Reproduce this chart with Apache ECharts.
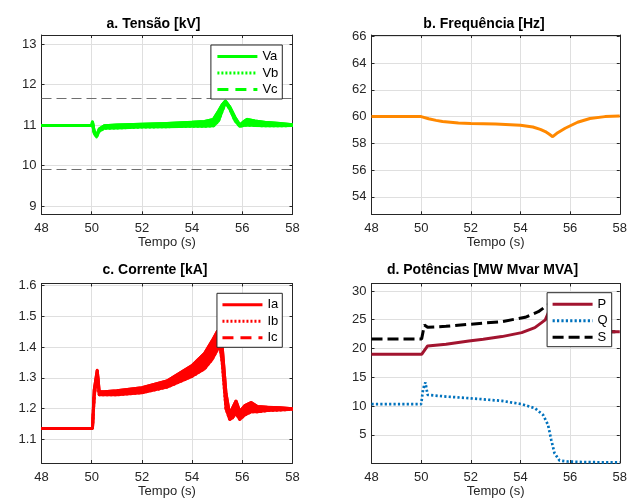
<!DOCTYPE html>
<html><head><meta charset="utf-8">
<script src="https://cdn.jsdelivr.net/npm/echarts@6/dist/echarts.min.js"></script>
<style>html,body{margin:0;padding:0;background:#fff}#c{width:630px;height:501px}</style>
</head><body><div id="c"></div>
<script>
// ---------- DATA ----------
const titles = ['a. Tensão [kV]', 'b. Frequência [Hz]', 'c. Corrente [kA]', 'd. Potências [MW Mvar MVA]'];
const xLabel = 'Tempo (s)';
const xTicks = [48, 50, 52, 54, 56, 58];
const yTicksV = [9, 10, 11, 12, 13];
const yTicksF = [54, 56, 58, 60, 62, 64, 66];
const yTicksI = [1.1, 1.2, 1.3, 1.4, 1.5, 1.6];
const yTicksP = [5, 10, 15, 20, 25, 30];

// a. Voltage
const tV = [48, 50, 50.03, 50.1, 50.19, 50.3, 50.5, 51, 52, 53, 54, 54.5, 54.85, 55.05, 55.2, 55.33, 55.5, 55.7, 55.9, 56.05, 56.2, 56.5, 57, 57.5, 58];
const Va = [10.99, 10.99, 11.08, 10.84, 10.74, 10.9, 10.98, 11.0, 11.02, 11.04, 11.07, 11.09, 11.14, 11.34, 11.5, 11.59, 11.45, 11.2, 11.0, 11.08, 11.14, 11.1, 11.06, 11.04, 11.01];
const Vb = [10.99, 10.99, 11.05, 10.8, 10.71, 10.85, 10.92, 10.93, 10.95, 10.96, 10.97, 10.97, 10.98, 11.1, 11.35, 11.55, 11.4, 11.12, 10.97, 10.99, 11.0, 10.99, 10.98, 10.98, 10.99];
const Vc = [10.99, 10.99, 11.06, 10.82, 10.72, 10.87, 10.95, 10.96, 10.98, 11.0, 11.02, 11.03, 11.06, 11.22, 11.42, 11.57, 11.42, 11.16, 10.98, 11.03, 11.07, 11.04, 11.02, 11.01, 11.0];
const vLimits = [11.66, 9.9];

// b. Frequency
const tF = [48, 50, 50.3, 50.6, 50.86, 51.5, 52, 53, 54, 54.5, 54.8, 55.0, 55.15, 55.3, 55.5, 55.8, 56.3, 56.8, 57.4, 58];
const F = [60, 60, 59.84, 59.72, 59.63, 59.52, 59.48, 59.44, 59.36, 59.22, 59.05, 58.88, 58.7, 58.5, 58.8, 59.13, 59.58, 59.86, 60.0, 60.05];

// c. Current
const tI = [48, 50.03, 50.1, 50.22, 50.3, 50.5, 51, 52, 53, 54, 54.5, 54.8, 55.0, 55.1, 55.2, 55.35, 55.5, 55.6, 55.75, 55.9, 56.1, 56.35, 56.6, 57, 57.5, 58];
const Ia = [1.136, 1.136, 1.26, 1.325, 1.255, 1.255, 1.258, 1.268, 1.29, 1.34, 1.38, 1.42, 1.45, 1.455, 1.4, 1.25, 1.18, 1.2, 1.225, 1.19, 1.21, 1.22, 1.207, 1.205, 1.203, 1.2];
const Ib = [1.136, 1.136, 1.24, 1.31, 1.245, 1.245, 1.245, 1.252, 1.27, 1.305, 1.33, 1.36, 1.39, 1.41, 1.35, 1.2, 1.165, 1.17, 1.185, 1.165, 1.18, 1.19, 1.19, 1.194, 1.196, 1.198];
const Ic = [1.136, 1.136, 1.25, 1.318, 1.25, 1.25, 1.252, 1.26, 1.28, 1.322, 1.355, 1.39, 1.42, 1.432, 1.375, 1.225, 1.172, 1.185, 1.205, 1.178, 1.195, 1.205, 1.198, 1.2, 1.2, 1.199];

// d. Powers
const tP = [48, 50.02, 50.26, 51, 51.92, 52.5, 53.25, 54.05, 54.58, 55.0, 55.2, 55.35, 55.5, 55.8, 56.2, 57, 58];
const P = [19.0, 19.0, 20.45, 20.75, 21.3, 21.6, 22.07, 22.76, 23.63, 24.97, 27.0, 28.3, 25.0, 23.5, 23.0, 22.9, 22.9];
const tQ = [48, 50.0, 50.08, 50.17, 50.26, 51, 51.92, 53.25, 54.05, 54.58, 54.91, 55.11, 55.24, 55.37, 55.57, 55.9, 56.6, 58];
const Q = [10.33, 10.33, 13.0, 14.1, 11.94, 11.65, 11.37, 10.9, 10.33, 9.63, 8.47, 6.74, 4.13, 1.82, 0.54, 0.36, 0.25, 0.2];
const tS = [48, 50.02, 50.13, 50.26, 51, 51.92, 53.25, 54.19, 54.72, 55.1, 55.3, 55.5, 55.8, 56.2, 57, 58];
const S = [21.67, 21.67, 24.1, 23.7, 23.85, 24.2, 24.67, 25.43, 26.4, 27.57, 28.6, 25.2, 23.6, 23.0, 22.9, 22.9];

// ---------- STYLE / LAYOUT ----------
const FONT = '"Liberation Sans", Arial, Helvetica, sans-serif';
const AX = '#262626', GRIDC = '#dfdfdf';
const GREEN = '#00ff00', RED = '#ff0000', ORANGE = '#ff8800', PRED = '#a2142f', QBLUE = '#0072bd';
const grids = [
  {left: 41.5, top: 35, width: 251, height: 179.3},
  {left: 371.5, top: 35, width: 251, height: 179.3},
  {left: 41.5, top: 283.5, width: 251, height: 179.5},
  {left: 371.5, top: 283.5, width: 251, height: 179.5}
];
const yRanges = [[8.8, 13.22], [52.7, 66.1], [1.024, 1.606], [0.1, 31.3]];
const yTicks = [yTicksV, yTicksF, yTicksI, yTicksP];
const titlePos = [[153.5, 24], [484, 24], [155, 270], [482.5, 270.5]];

const pairs = (t, v) => t.map((x, i) => [x, v[i]]);

const xAxis = [], yAxis = [];
grids.forEach((g, i) => {
  const line = {show: true, onZero: false, lineStyle: {color: AX, width: 1}};
  xAxis.push({type: 'value', gridIndex: i, min: 48, max: 58, position: 'bottom',
    axisLine: line,
    axisTick: {show: true, inside: true, length: 3, customValues: xTicks, lineStyle: {color: AX}},
    axisLabel: {customValues: xTicks, color: AX, fontSize: 13, fontFamily: FONT, margin: 8},
    splitLine: {show: true, lineStyle: {color: GRIDC, width: 1}},
    name: xLabel, nameLocation: 'middle', nameGap: 22,
    nameTextStyle: {color: AX, fontSize: 13, fontFamily: FONT, verticalAlign: 'top'}
  });
  xAxis.push({type: 'value', gridIndex: i, min: 48, max: 58, position: 'top',
    axisLine: line,
    axisTick: {show: true, inside: true, length: 3, customValues: xTicks, lineStyle: {color: AX}},
    axisLabel: {show: false}, splitLine: {show: false}
  });
  yAxis.push({type: 'value', gridIndex: i, min: yRanges[i][0], max: yRanges[i][1], position: 'left',
    axisLine: line,
    axisTick: {show: true, inside: true, length: 3, customValues: yTicks[i], lineStyle: {color: AX}},
    axisLabel: {customValues: yTicks[i], color: AX, fontSize: 13, fontFamily: FONT, margin: 5},
    splitLine: {show: true, lineStyle: {color: GRIDC, width: 1}}
  });
  yAxis.push({type: 'value', gridIndex: i, min: yRanges[i][0], max: yRanges[i][1], position: 'right',
    axisLine: line,
    axisTick: {show: true, inside: true, length: 3, customValues: yTicks[i], lineStyle: {color: AX}},
    axisLabel: {show: false}, splitLine: {show: false}
  });
});

// Filled envelope of the three phases (oscillation band), drawn through the axes' coordinates
function bandSeries(idx, t, arrs, color) {
  const lo = t.map((_, i) => Math.min(...arrs.map(a => a[i])));
  const hi = t.map((_, i) => Math.max(...arrs.map(a => a[i])));
  return {type: 'custom', xAxisIndex: idx * 2, yAxisIndex: idx * 2, silent: true, clip: true, z: 2,
    data: [[t[0], lo[0]]],
    encode: {x: 0, y: 1},
    renderItem: function (params, api) {
      const pts = [];
      for (let i = 0; i < t.length; i++) pts.push(api.coord([t[i], hi[i]]));
      for (let i = t.length - 1; i >= 0; i--) pts.push(api.coord([t[i], lo[i]]));
      return {type: 'polygon', shape: {points: pts},
        style: {fill: color, stroke: color, lineWidth: 3, lineJoin: 'round'}};
    }};
}

function ln(idx, name, t, v, color, width, type, z) {
  return {type: 'line', name: name, xAxisIndex: idx * 2, yAxisIndex: idx * 2,
    data: pairs(t, v), symbol: 'none', z: z || 3,
    lineStyle: {color: color, width: width, type: type, cap: 'butt'}, itemStyle: {color: color}};
}

const series = [];
series.push(bandSeries(0, tV, [Va, Vb, Vc], GREEN));
const va = ln(0, 'Va', tV, Va, GREEN, 3, 'solid');
va.markLine = {silent: true, symbol: 'none', label: {show: false},
  lineStyle: {color: '#6f6f6f', width: 1, type: [10, 5]},
  data: vLimits.map(v => ({yAxis: v}))};
series.push(va, ln(0, 'Vb', tV, Vb, GREEN, 3, [2, 2]), ln(0, 'Vc', tV, Vc, GREEN, 3, [11, 7]));
series.push(ln(1, 'f', tF, F, ORANGE, 3, 'solid'));
series.push(bandSeries(2, tI, [Ia, Ib, Ic], RED));
series.push(ln(2, 'Ia', tI, Ia, RED, 3, 'solid'), ln(2, 'Ib', tI, Ib, RED, 3, [2, 2]), ln(2, 'Ic', tI, Ic, RED, 3, [11, 7]));
series.push(ln(3, 'S', tS, S, '#000000', 3, [11, 5], 3));
series.push(ln(3, 'Q', tQ, Q, QBLUE, 2.7, [2.2, 2.2], 3));
series.push(ln(3, 'P', tP, P, PRED, 3, 'solid', 4));

function legend(names, right, top, padLeft) {
  return {data: names, orient: 'vertical', right: right, top: top,
    itemWidth: 40, itemHeight: 14, itemGap: 3.5, padding: [5, 4, 3, padLeft],
    backgroundColor: '#ffffff', borderColor: AX, borderWidth: 1, borderRadius: 0,
    selectedMode: false, z: 10,
    lineStyle: {width: 3},
    itemStyle: {opacity: 0, color: 'rgba(0,0,0,0)', borderWidth: 0},
    textStyle: {color: '#000', fontSize: 13, fontFamily: FONT}};
}

const option = {
  animation: false,
  backgroundColor: '#ffffff',
  grid: grids.map(g => Object.assign({containLabel: false}, g)),
  xAxis: xAxis, yAxis: yAxis, series: series,
  legend: [
    legend(['Va', 'Vb', 'Vc'], 347.7, 45, 5),
    legend(['Ia', 'Ib', 'Ic'], 347.7, 293.3, 4),
    legend(['P', 'Q', 'S'], 18.3, 292.7, 4)
  ],
  graphic: titles.map((t, i) => ({type: 'text', x: titlePos[i][0], y: titlePos[i][1], z: 20,
    style: {text: t, font: 'bold 14px ' + FONT, fill: '#000', align: 'center', verticalAlign: 'middle',
      textAlign: 'center', textVerticalAlign: 'middle'}}))
};
const chart = echarts.init(document.getElementById('c'), null, {renderer: 'canvas'});
chart.setOption(option);
</script></body></html>
